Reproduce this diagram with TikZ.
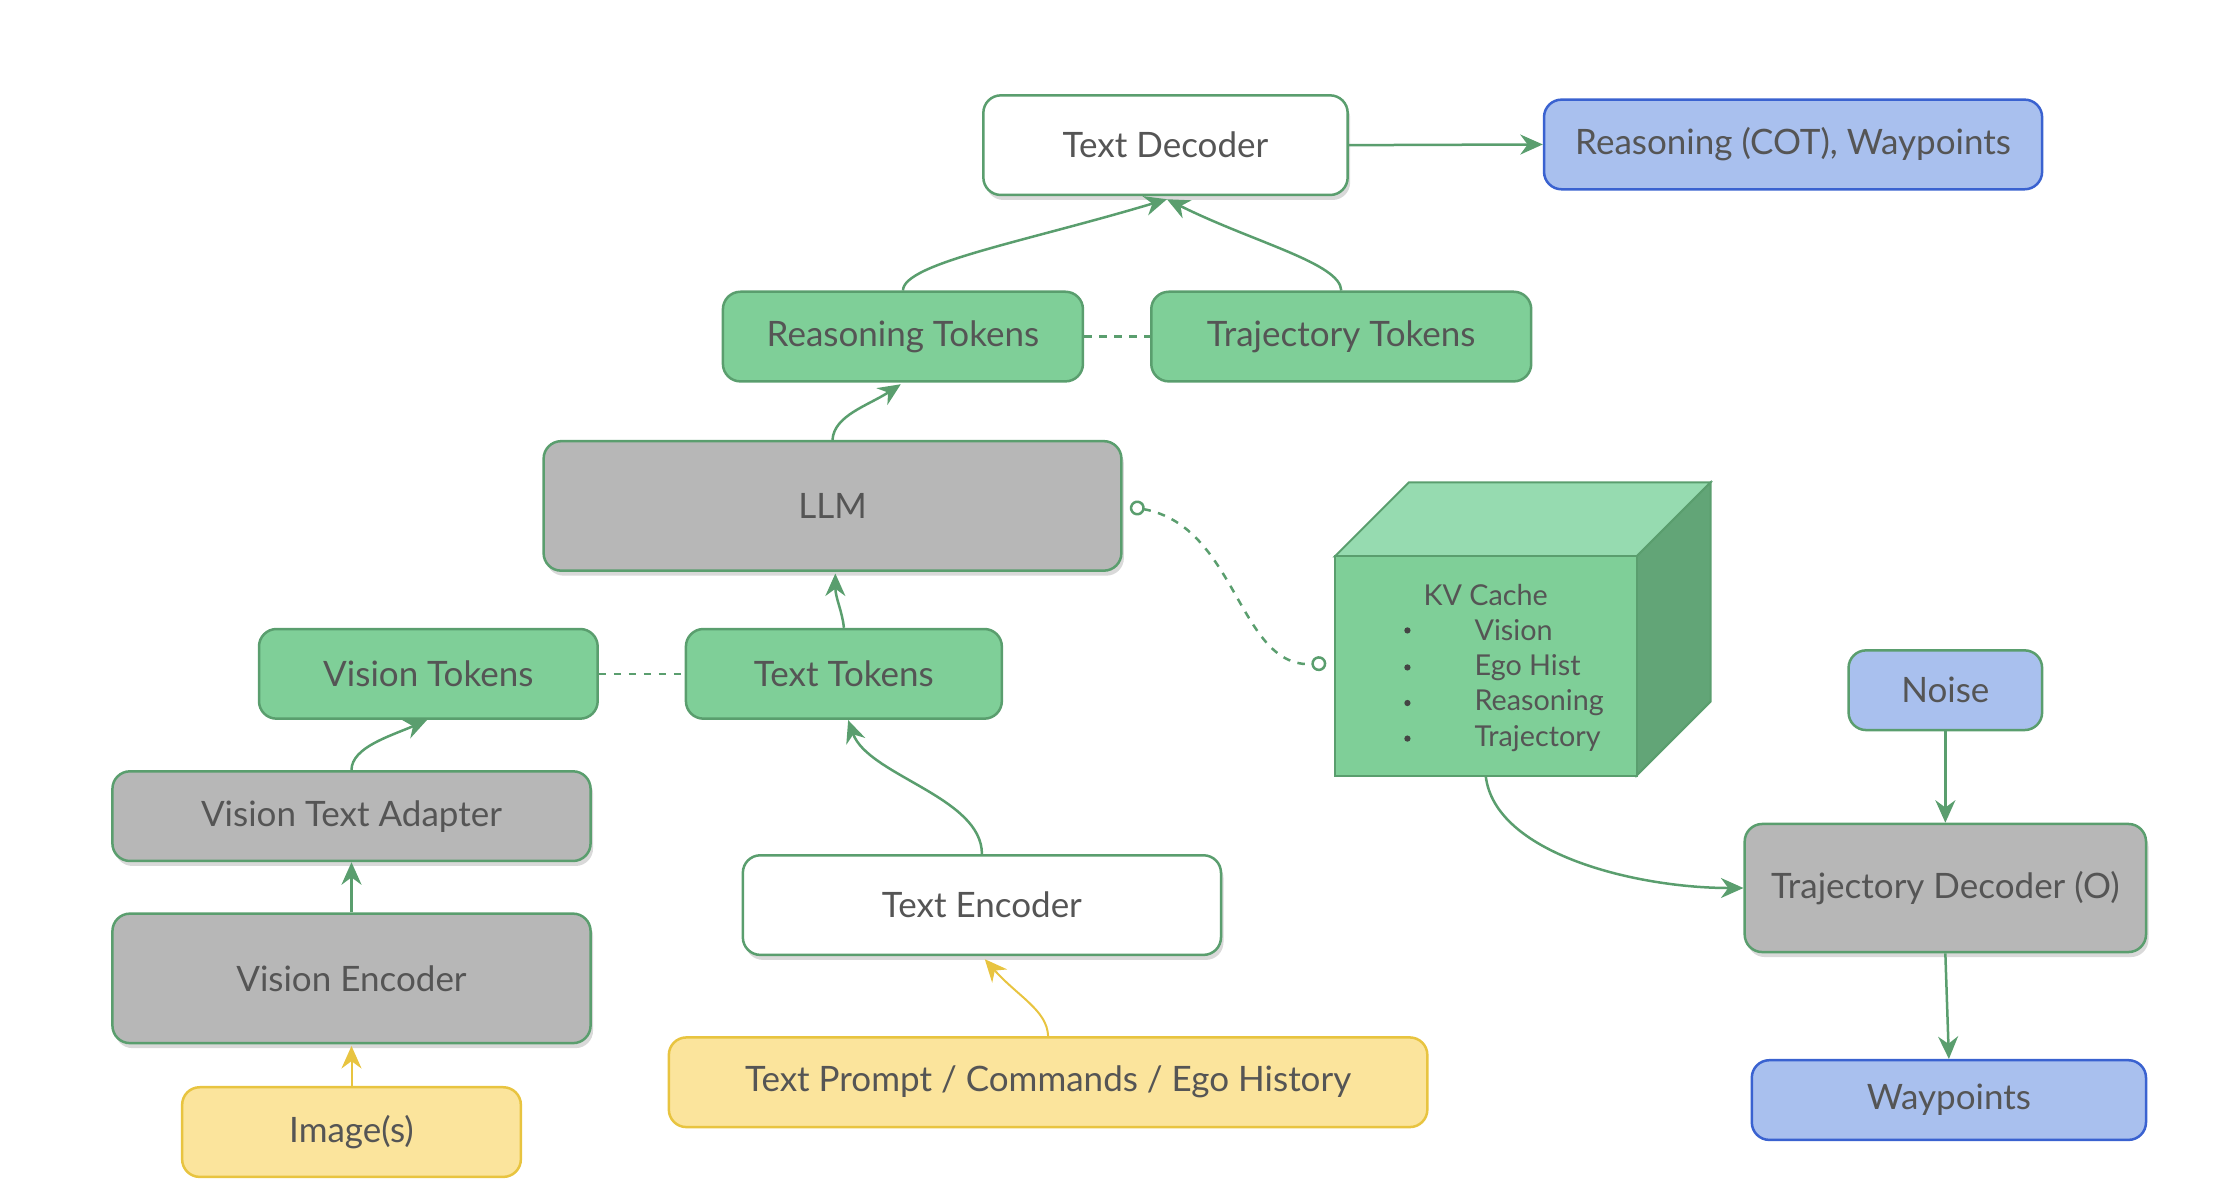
\documentclass[tikz,border=0pt]{standalone}
\usepackage{fontspec}
\setmainfont{Lato}
\usetikzlibrary{arrows.meta,shadows}
\definecolor{gB}{HTML}{5A9E6E}
\definecolor{gF}{HTML}{7FCF98}
\definecolor{gT}{HTML}{96DBB0}
\definecolor{gS}{HTML}{62A577}
\definecolor{grF}{HTML}{B7B7B7}
\definecolor{bF}{HTML}{A9C0EE}
\definecolor{bB}{HTML}{3A62D0}
\definecolor{yF}{HTML}{FBE49C}
\definecolor{yB}{HTML}{E8C440}
\definecolor{tx}{HTML}{555555}
\tikzset{
 box/.style={rectangle,rounded corners=7pt,draw=gB,line width=1pt,text=tx,font=\fontsize{14}{16}\selectfont,inner sep=0pt},
 wbox/.style={box,fill=white,drop shadow={shadow xshift=1pt,shadow yshift=-2pt,opacity=0.3}},
 grbox/.style={box,fill=grF,drop shadow={shadow xshift=1pt,shadow yshift=-2pt,opacity=0.3}},
 gbox/.style={box,fill=gF},
 bbox/.style={box,fill=bF,draw=bB},
 nbox/.style={box,fill=bF},
 ybox/.style={box,fill=yF,draw=yB},
 arr/.style={draw=gB,line width=1pt,-{Stealth[length=9pt,width=8pt]}},
 yarr/.style={draw=yB,line width=0.8pt,-{Stealth[length=9pt,width=8pt]}},
 dline/.style={draw=gB,line width=1pt,dashed},
}
\newcommand{\bx}[7]{\node[#6,minimum width={#4*0.02cm},minimum height={#5*0.02cm}] (#1) at (#2,#3) {#7};}
\begin{document}
\begin{tikzpicture}[x=0.02cm,y=-0.02cm]
\useasboundingbox (0,0) rectangle (1560,843);
\bx{td}{819}{102}{256}{70}{wbox}{Text Decoder}
\bx{rcot}{1260}{101.5}{350}{63}{bbox}{Reasoning (COT), Waypoints}
\bx{rt}{634.5}{236.5}{253}{63}{gbox}{Reasoning Tokens}
\bx{tt}{942.5}{236.5}{267}{63}{gbox}{Trajectory Tokens}
\bx{llm}{585}{355.5}{406}{91}{grbox}{LLM}
\bx{vt}{301}{473.5}{238}{63}{gbox}{Vision Tokens}
\bx{ttk}{593}{473.5}{222}{63}{gbox}{Text Tokens}
\bx{noise}{1367}{485}{136}{56}{nbox}{Noise}
\bx{vta}{247}{573.5}{336}{63}{grbox}{Vision Text Adapter}
\bx{ve}{247}{687.5}{336}{91}{grbox}{Vision Encoder}
\bx{te}{690}{636}{336}{70}{wbox}{Text Encoder}
\bx{tdec}{1367}{624}{282}{90}{grbox}{Trajectory Decoder (O)}
\bx{tp}{736.5}{760.5}{533}{63}{ybox}{Text Prompt / Commands / Ego History}
\bx{img}{247}{795.5}{238}{63}{ybox}{Image(s)}
\bx{wp}{1369.5}{773}{277}{56}{bbox}{Waypoints}
% cube
\coordinate (kvA) at (938,391); \coordinate (kvB) at (1150,391);
\coordinate (kvC) at (1150,545); \coordinate (kvD) at (938,545);
\fill[gT,draw=gB,line width=0.8pt] (kvA)--(990,339)--(1202,339)--(kvB)--cycle;
\fill[gS,draw=gB,line width=0.8pt] (kvB)--(1202,339)--(1202,493)--(kvC)--cycle;
\fill[gF,draw=gB,line width=0.8pt] (kvA)--(kvB)--(kvC)--(kvD)--cycle;
\node[text=tx,font=\fontsize{11.5}{13}\selectfont] (kvt) at (1044,418) {KV Cache};
\foreach \t/\yy in {Vision/443,Ego Hist/469,Reasoning/494,Trajectory/519}{
 \fill[tx!80!black] (989,\yy) circle (2.2);
 \node[text=tx,anchor=west,font=\fontsize{11.5}{13}\selectfont] at (1030,\yy) {\t};}
\coordinate (kvL) at (932,466);
\coordinate (kvBot) at (1044,545);
% edges
\draw[arr] (td.east) -- (rcot.west);
\draw[arr] (rt.north) .. controls (635,185) and (720,170) .. (820,140);
\draw[arr] (tt.north) .. controls (942,185) and (880,170) .. (820,140);
\draw[dline] (rt.east) -- (tt.west);
\draw[arr] (llm.north) .. controls (586,292) and (610,285) .. (633,270);
\draw[arr] (ttk.north) .. controls (592,430) and (587,420) .. (587,403);
\draw[dline] (vt.east) -- (ttk.west);
\draw[arr] (vta.north) .. controls (247,525) and (275,517) .. (300,506);
\draw[arr] (ve.north) -- (vta.south);
\draw[yarr] (img.north) -- (247,735);
\draw[arr] (te.north) .. controls (690,560) and (610,545) .. (596,506);
\draw[yarr] (tp.north) .. controls (736,710) and (715,700) .. (692,674);
\draw[dline,{Circle[open,length=6pt,fill=white]}-{Circle[open,length=6pt,fill=white]}] (794,356) .. controls (870,370) and (870,470) .. (kvL);
\draw[arr] (kvBot) .. controls (1050,600) and (1150,624) .. (tdec.west);
\draw[arr] (noise.south) -- (tdec.north);
\draw[arr] (tdec.south) -- (wp.north);
\end{tikzpicture}
\end{document}
